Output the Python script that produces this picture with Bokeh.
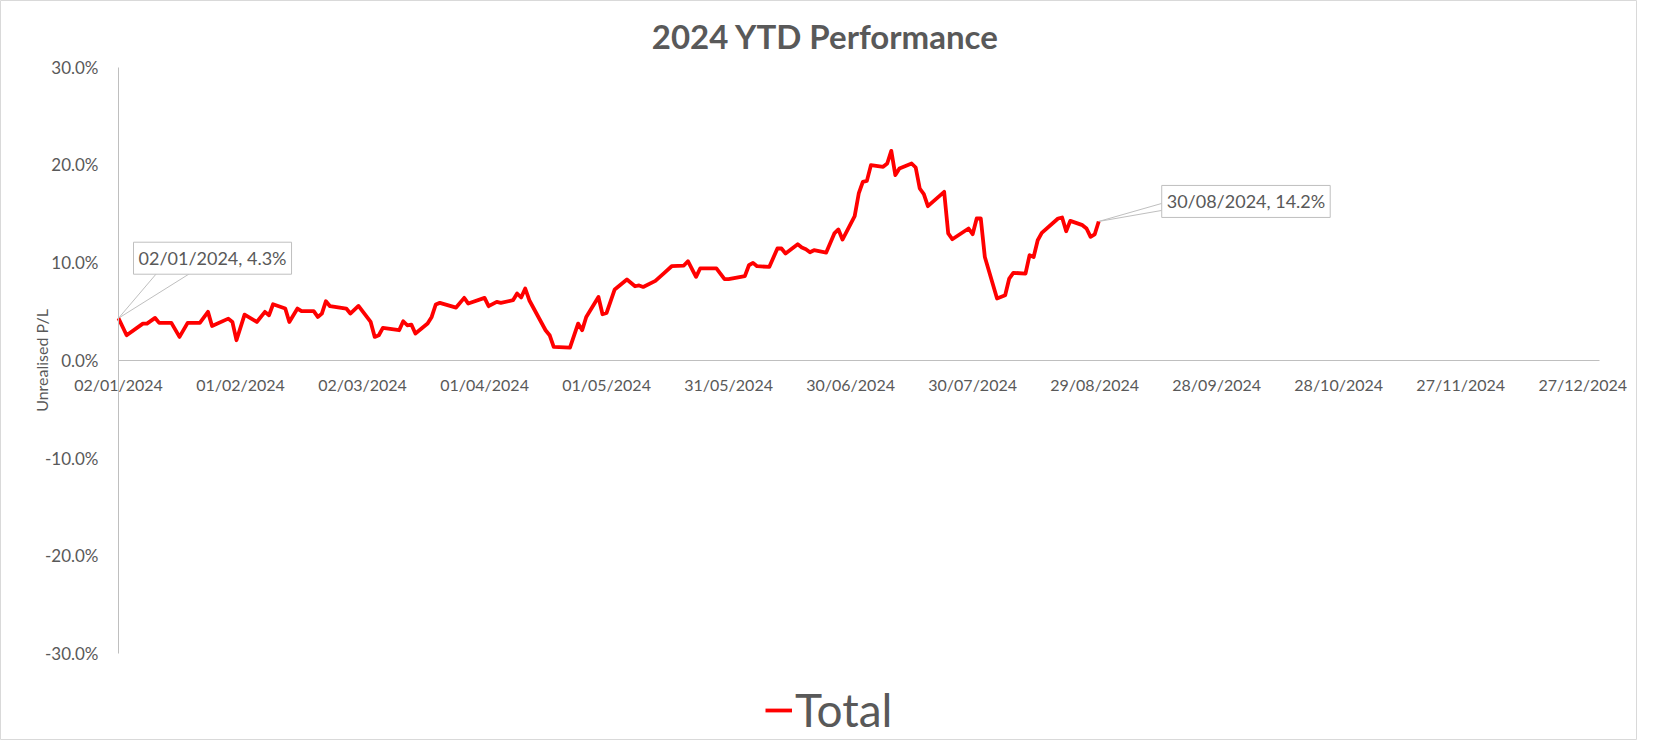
import pandas as pd
from bokeh.plotting import figure
from bokeh.models import (Range1d, FixedTicker, DatetimeTickFormatter, PrintfTickFormatter,
                          Label, Legend, LegendItem, ColumnDataSource)
from bokeh.embed import file_html
from bokeh.resources import INLINE

# ---------------- data ----------------
dates = (
    ["2024-01-%02d" % d for d in [2, 4, 8, 9, 11, 12, 15, 17, 19, 22, 24, 25, 29, 30, 31]]
    + ["2024-02-%02d" % d for d in [2, 5, 7, 8, 9, 12, 13, 15, 16, 19, 20, 21, 22, 23, 27, 28]]
    + ["2024-03-%02d" % d for d in [1, 4, 5, 6, 7, 11, 12, 13, 14, 15, 18, 19, 20, 21, 25, 27, 28]]
    + ["2024-04-%02d" % d for d in [1, 2, 4, 5, 8, 9, 10, 11, 12, 16, 17, 18, 22, 24, 25, 26, 29, 30]]
    + ["2024-05-%02d" % d for d in [1, 3, 6, 8, 9, 10, 13, 15, 17, 20, 21, 23, 24, 28, 30, 31]]
    + ["2024-06-%02d" % d for d in [4, 5, 6, 7, 10, 12, 13, 14, 17, 18, 19, 20, 21, 24, 26, 27, 28]]
    + ["2024-07-%02d" % d for d in [1, 2, 3, 4, 5, 8, 9, 10, 11, 12, 15, 16, 17, 18, 19, 23, 24, 25, 29, 30, 31]]
    + ["2024-08-%02d" % d for d in [1, 2, 5, 7, 8, 9, 12, 13, 14, 15, 16, 20, 21, 22, 23, 26, 27, 28, 29, 30]]
)
pl_pct = (
    [4.3, 2.56, 3.75, 3.75, 4.33, 3.82, 3.82, 2.39, 3.82, 3.82, 4.95, 3.51, 4.26, 3.92, 2.05]
    + [4.67, 3.92, 4.95, 4.6, 5.73, 5.29, 3.92, 5.29, 5.02, 5.02, 4.43, 4.77, 6.04, 5.53, 5.29, 4.78]
    + [5.56, 3.92, 2.39, 2.56, 3.31, 3.07, 3.99, 3.58, 3.65, 2.73, 3.75, 4.43, 5.7, 5.87, 5.39, 6.38, 5.8]
    + [6.38, 5.53, 5.97, 5.87, 6.14, 6.83, 6.42, 7.34, 6.14, 3.07, 2.56, 1.36, 1.3, 3.75, 3.07, 4.43, 6.48, 4.71]
    + [4.84, 7.24, 8.26, 7.57, 7.65, 7.5, 8.12, 8.87, 9.62, 9.69, 10.13, 8.53, 9.39, 9.39, 8.29, 8.29]
    + [8.6, 9.72, 9.96, 9.62, 9.55, 11.43, 11.43, 10.92, 11.87, 11.54, 11.36, 11.05, 11.26, 11.02, 12.97, 13.38, 12.35]
    + [14.74, 17.06, 18.25, 18.35, 19.96, 19.79, 20.13, 21.42, 18.94, 19.62, 20.13, 19.72, 17.57, 16.99, 15.76,
       17.23, 12.97, 12.38, 13.48, 12.9, 14.5]
    + [14.5, 10.57, 6.32, 6.65, 8.36, 8.94, 8.87, 10.75, 10.57, 12.28, 13.03, 14.5, 14.6, 13.2, 14.26, 13.82,
       13.48, 12.62, 12.87, 14.2]
)
x_tick_dates = ["2024-01-02", "2024-02-01", "2024-03-02", "2024-04-01", "2024-05-01", "2024-05-31",
                "2024-06-30", "2024-07-30", "2024-08-29", "2024-09-28", "2024-10-28", "2024-11-27",
                "2024-12-27"]
y_ticks = [-30, -20, -10, 0, 10, 20, 30]
x_start, x_end = "2024-01-02", "2024-12-31"
y_start, y_end = -30, 30
series_name = "Total"
title_text = "2024 YTD Performance"
y_title = "Unrealised P/L"

# ---------------- style / layout ----------------
FONT = "Lato"
TXT = "#595959"
AX = "#bfbfbf"
RED = "#ff0000"
W, H = 1637, 740
# pixel extent of the axes inside the canvas
PL, PR, PT, PB = 118.0, 1598.5, 66.5, 653.0

dt = pd.to_datetime(dates)
src = ColumnDataSource(dict(date=dt, pl=pl_pct))
xs = pd.Timestamp(x_start)
xe = pd.Timestamp(x_end)
xs_ms = xs.value / 1e6
xe_ms = xe.value / 1e6
ms_per_px = (xe_ms - xs_ms) / (PR - PL)
val_per_px = (y_end - y_start) / (PB - PT)

# frame covers the whole canvas; ranges are widened so the axes land where they should
xr = Range1d(xs_ms - PL * ms_per_px, xs_ms + (W - PL) * ms_per_px)
yr = Range1d(y_start - (H - PB) * val_per_px, y_end + PT * val_per_px)

p = figure(width=W, height=H, x_axis_type="datetime", output_backend="svg", toolbar_location=None,
           x_range=xr, y_range=yr, min_border=0)
p.title.visible = False
p.outline_line_color = "#d9d9d9"
p.grid.visible = False
p.background_fill_color = "white"
p.border_fill_color = "white"

# x axis through zero
xtick_ms = [pd.Timestamp(d).value / 1e6 for d in x_tick_dates]
p.xaxis.ticker = FixedTicker(ticks=xtick_ms)
fmt = "%d/%m/%Y"
p.xaxis.formatter = DatetimeTickFormatter(milliseconds=fmt, seconds=fmt, minsec=fmt, minutes=fmt,
                                          hourmin=fmt, hours=fmt, days=fmt, months=fmt, years=fmt)
p.xaxis.fixed_location = 0
p.xaxis.bounds = (xs_ms, xe_ms)
p.xaxis.axis_line_color = AX
p.xaxis.axis_line_width = 1
p.xaxis.major_tick_line_color = None
p.xaxis.minor_tick_line_color = None
p.xaxis.major_label_standoff = 9
p.xaxis.major_label_text_font = FONT
p.xaxis.major_label_text_font_size = "16px"
p.xaxis.major_label_text_color = TXT

# y axis at the first date
p.yaxis.fixed_location = xs_ms
p.yaxis.bounds = (y_start, y_end)
p.yaxis.ticker = FixedTicker(ticks=y_ticks)
p.yaxis.formatter = PrintfTickFormatter(format="%.1f%%")
p.yaxis.axis_line_color = AX
p.yaxis.major_tick_line_color = None
p.yaxis.minor_tick_line_color = None
p.yaxis.major_label_standoff = 14
p.yaxis.major_label_text_font = FONT
p.yaxis.major_label_text_font_size = "17px"
p.yaxis.major_label_text_color = TXT
p.yaxis.axis_label = y_title
p.yaxis.axis_label_text_font = FONT
p.yaxis.axis_label_text_font_style = "normal"
p.yaxis.axis_label_text_font_size = "16px"
p.yaxis.axis_label_text_color = TXT
p.yaxis.axis_label_standoff = -9

# callout leader wedges (pixel offsets converted through the scales)
def wedge(i, pts_px):
    x0 = dt[i]
    y0 = pl_pct[i]
    wx = [x0 + pd.Timedelta(milliseconds=dx * ms_per_px) for dx, _ in pts_px]
    wy = [y0 + dy * val_per_px for _, dy in pts_px]
    p.line(wx, wy, line_color=AX, line_width=1)

wedge(0, [(40, 47), (0, 0), (75, 47)])
wedge(len(dates) - 1, [(63, 18), (0, 0), (63, 11)])

r = p.line(x="date", y="pl", source=src, line_color=RED, line_width=3.8, line_join="round")

# data callouts
for i, xo, yo in [(0, 15, 60), (len(dates) - 1, 63, 20)]:
    txt = f"{dt[i]:%d/%m/%Y}, {pl_pct[i]:.1f}%"
    p.add_layout(Label(x=dt[i], y=pl_pct[i], x_offset=xo, y_offset=yo, text=txt,
                       text_align="left", text_baseline="middle", text_font=FONT,
                       text_font_size="18px", text_color=TXT, padding=5,
                       background_fill_color="white", border_line_color=AX, border_line_width=1))

# title (screen units measured from the canvas bottom-left)
p.add_layout(Label(x=825, y=H - 35, x_units="screen", y_units="screen", text=title_text,
                   text_align="center", text_baseline="middle", text_font=FONT,
                   text_font_style="bold", text_font_size="33px", text_color=TXT))

legend = Legend(items=[LegendItem(label=series_name, renderers=[r])], location=(765, 3),
                orientation="horizontal", label_text_font=FONT, label_text_font_size="46px",
                label_text_color=TXT, glyph_width=27, glyph_height=48, label_height=48,
                label_standoff=3, padding=0, spacing=0, margin=0,
                border_line_color=None, background_fill_alpha=0)
p.add_layout(legend)

open("out.html", "w").write(file_html(p, INLINE))
